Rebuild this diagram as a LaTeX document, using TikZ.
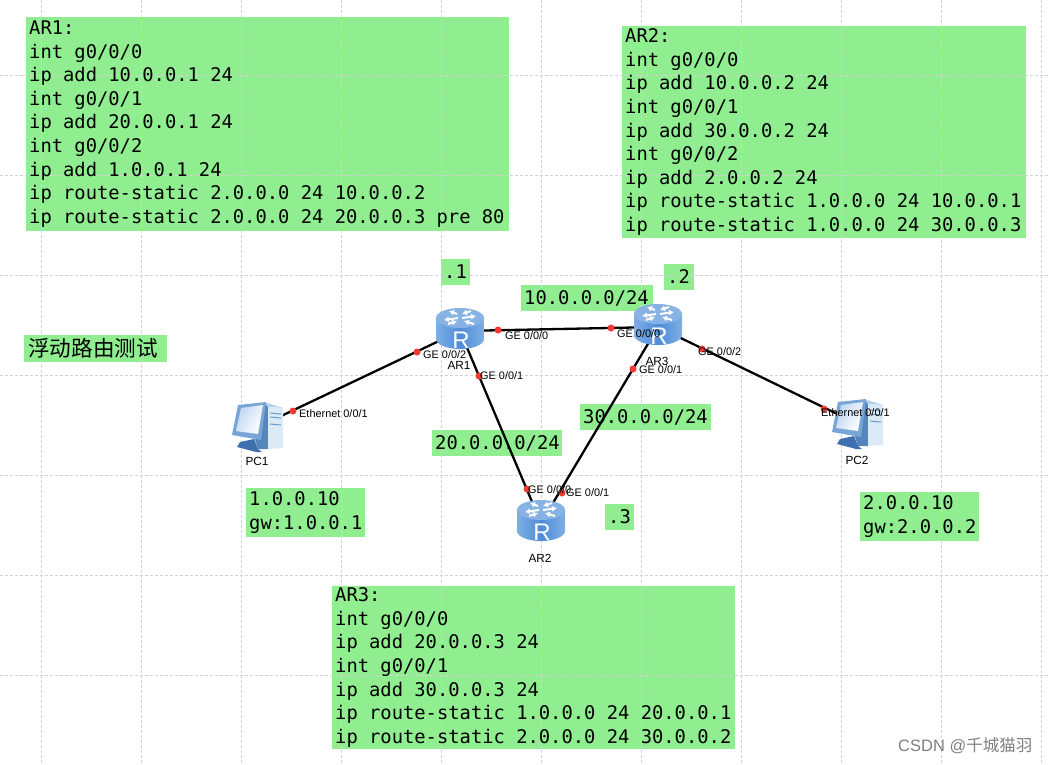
\documentclass[tikz,border=0pt]{standalone}
\usepackage{fontspec}
\setmainfont{Liberation Sans}
\newfontfamily\monof{DejaVu Sans Mono}
\newfontfamily\cjkf{Noto Sans CJK SC}
\usetikzlibrary{arrows.meta}
\pgfdeclarelayer{boxes}
\pgfdeclarelayer{gridlayer}
\pgfsetlayers{boxes,gridlayer,main}
\definecolor{boxgreen}{HTML}{90EE90}
\definecolor{gridgray}{HTML}{D2D2D2}
\definecolor{dotred}{HTML}{F23A30}
\definecolor{rtedge}{RGB}{125,175,230}
\definecolor{rtmid}{RGB}{80,140,215}
\definecolor{rttop}{RGB}{135,178,228}
\definecolor{pcback}{RGB}{86,133,190}
\definecolor{pctop}{RGB}{180,208,238}
\definecolor{pcfront}{RGB}{220,233,247}
\definecolor{pcslot}{RGB}{110,155,205}
\definecolor{pcbase}{RGB}{62,112,175}
\definecolor{pcbezel}{RGB}{120,165,215}
\definecolor{pcscreen}{RGB}{190,215,242}
\tikzset{
  x=1pt,y=-1pt,
  gridline/.style={gridgray,line width=0.8pt,dash pattern=on 3pt off 2pt},
  boxfill/.style={fill=boxgreen},
  boxtext/.style={anchor=west,inner sep=0pt,align=left,font=\monof\fontsize{18.8}{23.55}\selectfont},
  link/.style={line width=2.3pt,black},
  dot/.style={circle,fill=dotred,inner sep=0pt,minimum size=7pt},
  iflabel/.style={anchor=west,inner sep=0pt,font=\fontsize{10.9}{12}\selectfont},
  devlabel/.style={inner sep=0pt,font=\fontsize{11.8}{13}\selectfont},
  router/.pic={
    \path[shade,left color=rtedge,right color=rtedge,middle color=rtmid]
      (-24,-13) -- (-24,8) arc[start angle=180,end angle=360,x radius=24pt,y radius=10pt] -- (24,-13) -- cycle;
    \fill[rttop] (0,-13) ellipse[x radius=24pt,y radius=10pt];
    \begin{scope}[white,line width=2pt,-{Latex[length=5pt,width=6pt]}]
      \draw (-2,-13) -- (-16,-11);
      \draw (2,-13) -- (16,-15);
      \draw (-3,-17) -- (-11,-20);
      \draw (14,-7) -- (4,-10);
      \draw (11,-20) -- (2,-17);
      \draw (-12,-7) -- (-3,-10);
    \end{scope}
    \node[white,inner sep=0pt,font=\fontsize{24}{25}\selectfont] at (1,9) {R};
  },
  computer/.pic={
    \fill[pcback] (6,-25) -- (10,-20) -- (10,22) -- (0,22) -- (-4,10) -- cycle;
    \fill[pctop] (6,-25) -- (25,-19) -- (10,-20) -- cycle;
    \fill[pcfront] (10,-20) -- (25,-19) -- (25,21) -- (10,22) -- cycle;
    \draw[pcslot,line width=1pt] (12,-14) -- (23,-13) (12,-10) -- (23,-9) (12,-3) -- (23,-2);
    \fill[pcbase] (-18,15) -- (-4,12) -- (0,22) -- (4,25) -- (-2,25) -- (-21,20) -- cycle;
    \fill[pcbezel] (-20,-22) -- (8,-25) -- (3,13) -- (-26,8) -- cycle;
    \shade[left color=pcscreen,right color=white,shading angle=60] (-17,-19) -- (5,-22) -- (0,7) -- (-22,4) -- cycle;
  }
}
\newcommand{\greenbox}[6]{%
  \begin{pgfonlayer}{boxes}\fill[boxfill] (#2,#3) rectangle ++(#4,#5);\end{pgfonlayer}%
  \node[boxtext] (#1) at ({#2+3},{#3+#5/2}) {#6};%
}
\begin{document}
\begin{tikzpicture}
\useasboundingbox (0,0) rectangle (1048,764);
\begin{pgfonlayer}{boxes}\fill[white] (0,0) rectangle (1048,764);\end{pgfonlayer}
\begin{pgfonlayer}{gridlayer}
\foreach \gx in {41.7,141.7,...,1042} \draw[gridline] (\gx,0) -- (\gx,764);
\foreach \gy in {75,175,...,675} \draw[gridline] (0,\gy) -- (1048,\gy);
\end{pgfonlayer}

\greenbox{cfgone}{26}{17}{483}{214}{AR1:\\int g0/0/0\\ip add 10.0.0.1 24\\int g0/0/1\\ip add 20.0.0.1 24\\int g0/0/2\\ip add 1.0.0.1 24\\ip route-static 2.0.0.0 24 10.0.0.2\\ip route-static 2.0.0.0 24 20.0.0.3 pre 80}
\greenbox{cfgtwo}{622}{26}{404}{212}{AR2:\\int g0/0/0\\ip add 10.0.0.2 24\\int g0/0/1\\ip add 30.0.0.2 24\\int g0/0/2\\ip add 2.0.0.2 24\\ip route-static 1.0.0.0 24 10.0.0.1\\ip route-static 1.0.0.0 24 30.0.0.3}
\greenbox{cfgthree}{332}{586}{403}{163}{AR3:\\int g0/0/0\\ip add 20.0.0.3 24\\int g0/0/1\\ip add 30.0.0.3 24\\ip route-static 1.0.0.0 24 20.0.0.1\\ip route-static 2.0.0.0 24 30.0.0.2}
\greenbox{pcone}{246}{488}{119}{49}{1.0.0.10\\gw:1.0.0.1}
\greenbox{pctwo}{860}{492}{119}{49}{2.0.0.10\\gw:2.0.0.2}
\greenbox{hostone}{441}{259}{29}{26}{.1}
\greenbox{hosttwo}{664}{264}{30}{26}{.2}
\greenbox{hostthree}{605}{504}{29}{26}{.3}
\greenbox{netone}{521}{285}{132}{26}{10.0.0.0/24}
\greenbox{nettwo}{432}{430}{130}{26}{20.0.0.0/24}
\greenbox{netthree}{580}{404}{131}{26}{30.0.0.0/24}
\begin{pgfonlayer}{boxes}\fill[boxfill] (24,335) rectangle (167,362);\end{pgfonlayer}
\node[anchor=west,inner sep=0pt,font=\cjkf\fontsize{21.6}{24}\selectfont] (title) at (28,348) {浮动路由测试};

\node[coordinate] (ar1) at (460,331) {};
\node[coordinate] (ar3) at (658,327) {};
\node[coordinate] (ar2) at (541,523) {};
\node[coordinate] (pc1) at (258,427) {};
\node[coordinate] (pc2) at (858,424) {};

\draw[link] (ar1) -- (ar3);
\draw[link] (ar1) -- (ar2);
\draw[link] (ar3) -- (ar2);
\draw[link] (ar1) -- (pc1);
\draw[link] (ar3) -- (pc2);

\node[dot] (d1) at (498,330) {};
\node[dot] (d2) at (611,328) {};
\node[dot] (d3) at (417,352) {};
\node[dot] (d4) at (479,376) {};
\node[dot] (d5) at (633,369) {};
\node[dot] (d6) at (702,349) {};
\node[dot] (d7) at (293,411) {};
\node[dot] (d8) at (824,409) {};
\node[dot] (d9) at (527,489) {};
\node[dot] (d10) at (562,493) {};

\pic at (ar1) {router};
\pic at (ar3) {router};
\pic at (ar2) {router};
\pic at (pc1) {computer};
\pic at (pc2) {computer};

\node[devlabel] (l1) at (459,365) {AR1};
\node[devlabel] (l2) at (540,558) {AR2};
\node[devlabel] (l3) at (657,361) {AR3};
\node[devlabel] (l4) at (257,461) {PC1};
\node[devlabel] (l5) at (857,460) {PC2};

\node[iflabel] (i1) at (505,336) {GE 0/0/0};
\node[iflabel] (i2) at (617,334) {GE 0/0/0};
\node[iflabel] (i3) at (423,355) {GE 0/0/2};
\node[iflabel] (i4) at (480,376) {GE 0/0/1};
\node[iflabel] (i5) at (639,370) {GE 0/0/1};
\node[iflabel] (i6) at (698,352) {GE 0/0/2};
\node[iflabel] (i7) at (299,414) {Ethernet 0/0/1};
\node[iflabel] (i8) at (821,413) {Ethernet 0/0/1};
\node[iflabel] (i9) at (528,490) {GE 0/0/0};
\node[iflabel] (i10) at (566,493) {GE 0/0/1};

\node[anchor=west,inner sep=0pt,text=black!50,font=\fontsize{16.5}{18}\selectfont] (mark) at (898,746) {CSDN @{\cjkf 千城猫羽}};
\end{tikzpicture}
\end{document}
